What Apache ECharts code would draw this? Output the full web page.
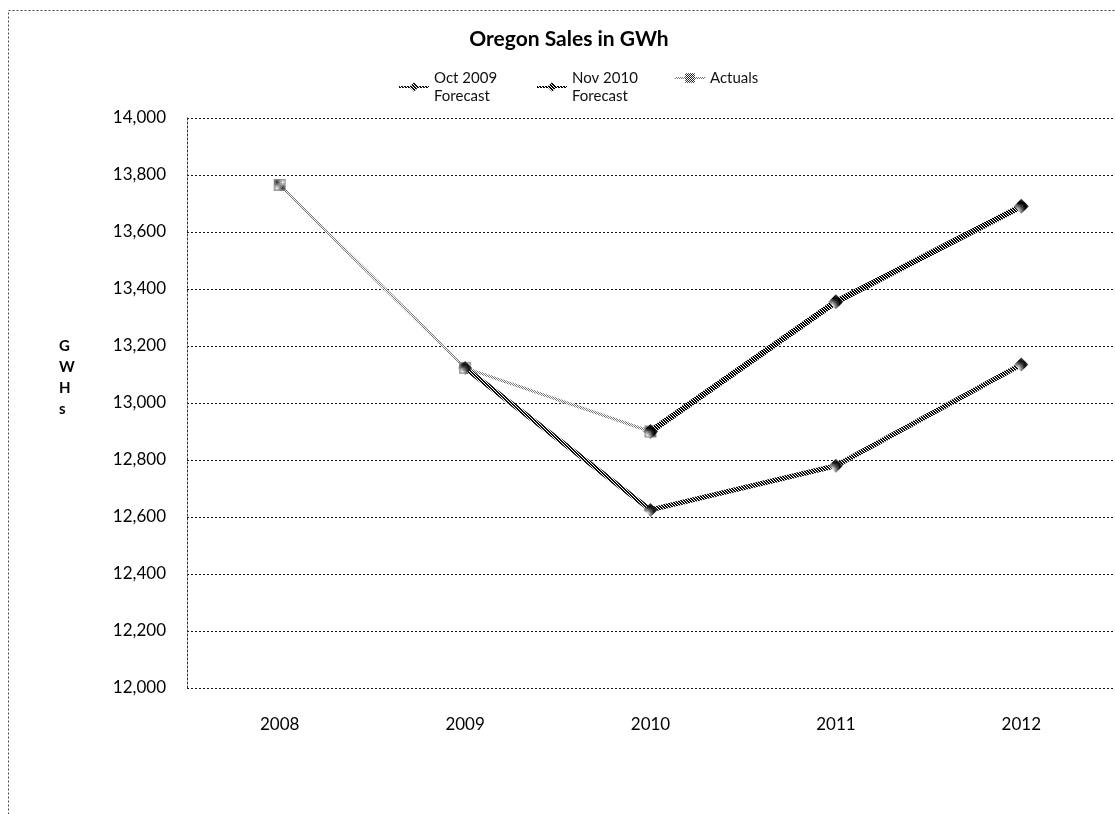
<!DOCTYPE html>
<html>
<head>
<meta charset="utf-8">
<script src="https://cdn.jsdelivr.net/npm/echarts@6/dist/echarts.min.js"></script>
<style>
html,body{margin:0;padding:0;background:#fff;}
#chart{width:1115px;height:814px;}
</style>
</head>
<body>
<div id="chart"></div>
<script>
// ---- data ----
const categories = ['2008', '2009', '2010', '2011', '2012'];
const oct2009Forecast = [null, 13123, 12625, 12780, 13135];
const nov2010Forecast = [null, null, 12900, 13355, 13690];
const actuals = [13765, 13123, 12900, null, null];
const seriesNames = ['Oct 2009\nForecast', 'Nov 2010\nForecast', 'Actuals'];
const yMin = 12000, yMax = 14000, yStep = 200;

// ---- patterns ----
function stripePattern(color, period, thick) {
  const c = document.createElement('canvas');
  c.width = period; c.height = period;
  const ctx = c.getContext('2d');
  ctx.fillStyle = '#ffffff';
  ctx.fillRect(0, 0, period, period);
  ctx.fillStyle = color;
  for (let i = 0; i < period; i++) {
    for (let k = 0; k < thick; k++) ctx.fillRect((i + k) % period, i, 1, 1);
  }
  return { image: c, repeat: 'repeat' };
}
function checkerPattern(color) {
  const c = document.createElement('canvas');
  c.width = 2; c.height = 2;
  const ctx = c.getContext('2d');
  ctx.fillStyle = '#ffffff';
  ctx.fillRect(0, 0, 2, 2);
  ctx.fillStyle = color;
  ctx.fillRect(0, 0, 1, 1);
  ctx.fillRect(1, 1, 1, 1);
  return { image: c, repeat: 'repeat' };
}
const octPat = stripePattern('#111', 3, 2);
const novPat = stripePattern('#000', 3, 2);
const actPat = checkerPattern('#777');
const actMarkPat = checkerPattern('#222');

const font = 'Lato, "Open Sans", sans-serif';
const legendCommon = {
  top: 64, itemWidth: 30, itemHeight: 12,
  textStyle: { fontFamily: font, fontSize: 15, color: '#111', lineHeight: 18 }
};
const chart = echarts.init(document.getElementById('chart'), null, { renderer: 'canvas' });
chart.setOption({
  animation: false,
  backgroundColor: '#fff',
  title: {
    text: 'Oregon Sales in GWh',
    left: 564, textAlign: 'center', top: 24,
    textStyle: { fontFamily: font, fontSize: 21, fontWeight: 'bold', color: '#000' }
  },
  legend: [
    Object.assign({ left: 393, data: [seriesNames[0]] }, legendCommon),
    Object.assign({ left: 531, data: [seriesNames[1]] }, legendCommon),
    Object.assign({ left: 669, data: [seriesNames[2]] }, legendCommon)
  ],
  grid: { left: 187, right: 1, top: 118, bottom: 126 },
  xAxis: {
    type: 'category', data: categories, boundaryGap: true,
    axisLine: { show: false }, axisTick: { show: false },
    axisLabel: { margin: 28, fontFamily: font, fontSize: 17, color: '#000' }
  },
  yAxis: {
    type: 'value', min: yMin, max: yMax, interval: yStep,
    axisLine: { show: true, lineStyle: { color: '#333', type: [2, 2], width: 1 } },
    axisTick: { show: false },
    axisLabel: {
      margin: 21, fontFamily: font, fontSize: 17, color: '#000',
      formatter: v => v.toLocaleString('en-US')
    },
    splitLine: { show: true, lineStyle: { color: '#111', type: [2, 2], width: 1 } }
  },
  graphic: [
    {
      type: 'rect', left: 6, top: 8, silent: true,
      shape: { x: 0, y: 0, width: 1300, height: 1000 },
      style: { fill: 'none', stroke: '#444', lineWidth: 1, lineDash: [2, 2] }
    },
    {
      type: 'text', left: 59, top: 336, silent: true,
      style: {
        text: 'G\nW\nH\ns', fontFamily: font, fontSize: 15, fontWeight: 'bold',
        fill: '#000', lineHeight: 21, align: 'center'
      }
    }
  ],
  series: [
    {
      name: seriesNames[0], type: 'line', data: oct2009Forecast,
      symbol: 'diamond', symbolSize: 14,
      lineStyle: { color: octPat, width: 5 },
      itemStyle: { color: octPat },
      z: 3
    },
    {
      name: seriesNames[1], type: 'line', data: nov2010Forecast,
      symbol: 'diamond', symbolSize: 15,
      lineStyle: { color: novPat, width: 6 },
      itemStyle: { color: novPat },
      z: 4
    },
    {
      name: seriesNames[2], type: 'line', data: actuals,
      symbol: 'rect', symbolSize: 12,
      lineStyle: { color: actPat, width: 3 },
      itemStyle: { color: actMarkPat },
      z: 2
    }
  ]
});
</script>
</body>
</html>
